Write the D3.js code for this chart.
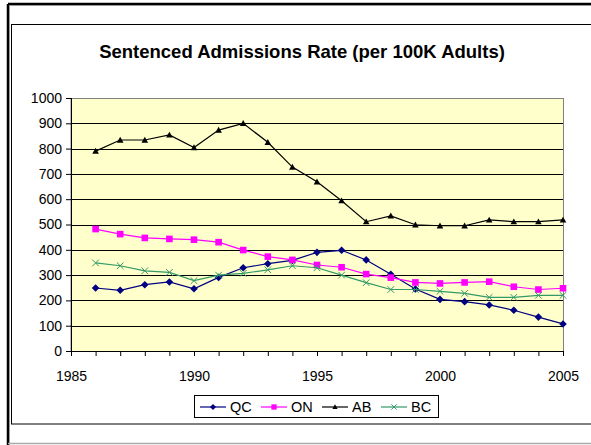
<!DOCTYPE html>
<html>
<head>
<meta charset="utf-8">
<script src="https://cdn.jsdelivr.net/npm/d3@7"></script>
<style>
  body { margin: 0; background: #fff; }
  svg { display: block; font-family: "Liberation Sans", Arial, sans-serif; }
  .tick text { font-size: 14px; fill: #000; }
</style>
</head>
<body>
<svg id="chart" width="591" height="445"></svg>
<script>
var years = [1986, 1987, 1988, 1989, 1990, 1991, 1992, 1993, 1994, 1995,
             1996, 1997, 1998, 1999, 2000, 2001, 2002, 2003, 2004, 2005];
var qc = [249, 240, 262, 273, 246, 291, 329, 345, 358, 390,
          398, 360, 303, 245, 204, 195, 182, 161, 134, 107];
var on = [482, 462, 447, 443, 440, 430, 399, 373, 360, 340,
          331, 304, 290, 271, 267, 271, 274, 254, 243, 248];
var ab = [790, 834, 834, 854, 804, 873, 900, 825, 727, 669,
          594, 511, 534, 499, 495, 495, 518, 511, 511, 518];
var bc = [348, 337, 317, 311, 278, 300, 307, 321, 337, 329,
          300, 270, 243, 243, 236, 228, 212, 212, 220, 220];
var yTicks = [0, 100, 200, 300, 400, 500, 600, 700, 800, 900, 1000];
var xLabels = [1985, 1990, 1995, 2000, 2005];

var series = [
  { name: "QC", values: qc, color: "#000080", marker: "diamond" },
  { name: "ON", values: on, color: "#ff00ff", marker: "square" },
  { name: "AB", values: ab, color: "#000000", marker: "triangle" },
  { name: "BC", values: bc, color: "#339966", marker: "cross" }
];

var svg = d3.select("#chart");

// outer frame
svg.append("line").attr("x1", 8).attr("y1", 4).attr("x2", 8).attr("y2", 445)
  .attr("stroke", "#000").attr("stroke-width", 2.5);
svg.append("line").attr("x1", 8).attr("y1", 4).attr("x2", 591).attr("y2", 4)
  .attr("stroke", "#000").attr("stroke-width", 2.5);
svg.append("line").attr("x1", 9.5).attr("y1", 5.5).attr("x2", 9.5).attr("y2", 445)
  .attr("stroke", "#999").attr("stroke-width", 1);
svg.append("line").attr("x1", 9.5).attr("y1", 5.5).attr("x2", 591).attr("y2", 5.5)
  .attr("stroke", "#999").attr("stroke-width", 1);
svg.append("line").attr("x1", 8).attr("y1", 443.5).attr("x2", 591).attr("y2", 443.5)
  .attr("stroke", "#aaa").attr("stroke-width", 1.5);

// inner chart area border
svg.append("rect").attr("x", 11.5).attr("y", 24.5).attr("width", 600).attr("height", 399.5)
  .attr("fill", "#fff").attr("stroke", "#000").attr("stroke-width", 1);

svg.append("text").attr("x", 302).attr("y", 58).attr("text-anchor", "middle")
  .attr("font-size", "18.5px").attr("font-weight", "bold")
  .text("Sentenced Admissions Rate (per 100K Adults)");

var plotLeft = 71, plotRight = 563, plotTop = 98, plotBottom = 351;
var x = d3.scaleLinear().domain([1985, 2005]).range([plotLeft, plotRight]);
var y = d3.scaleLinear().domain([0, 1000]).range([plotBottom, plotTop]);

svg.append("rect").attr("x", plotLeft).attr("y", plotTop + 0.5)
  .attr("width", plotRight - plotLeft + 0.5).attr("height", plotBottom - plotTop)
  .attr("fill", "#ffffcc").attr("stroke", "#808080").attr("stroke-width", 1);

// gridlines
svg.append("g").selectAll("line").data(yTicks.slice(1, -1)).enter().append("line")
  .attr("x1", plotLeft).attr("x2", plotRight)
  .attr("y1", function(d) { return Math.round(y(d)) + 0.5; })
  .attr("y2", function(d) { return Math.round(y(d)) + 0.5; })
  .attr("stroke", "#000").attr("stroke-width", 1);

var yAxis = d3.axisLeft(y).tickValues(yTicks).tickSize(5).tickPadding(4).tickFormat(d3.format("d"));
svg.append("g").attr("transform", "translate(" + plotLeft + ",0)").call(yAxis)
  .call(function(g) { g.select(".domain").remove(); })
  .call(function(g) { g.selectAll(".tick line").attr("stroke", "#000"); });
svg.append("line").attr("x1", plotLeft + 0.5).attr("x2", plotLeft + 0.5)
  .attr("y1", plotTop).attr("y2", plotBottom).attr("stroke", "#000");

var xAxis = d3.axisBottom(x).tickValues(d3.range(1985, 2006)).tickSize(5).tickPadding(15)
  .tickFormat(function(d) { return xLabels.indexOf(d) >= 0 ? d : ""; });
svg.append("g").attr("transform", "translate(0," + plotBottom + ")").call(xAxis)
  .call(function(g) { g.select(".domain").remove(); })
  .call(function(g) { g.selectAll(".tick line").attr("stroke", "#000"); });
svg.append("line").attr("x1", plotLeft).attr("x2", plotRight)
  .attr("y1", plotBottom + 0.5).attr("y2", plotBottom + 0.5).attr("stroke", "#000");

function drawMarker(g, type, cx, cy, color, s) {
  if (type === "diamond") {
    g.append("path").attr("d", "M" + cx + "," + (cy - s) + "L" + (cx + s) + "," + cy +
      "L" + cx + "," + (cy + s) + "L" + (cx - s) + "," + cy + "Z").attr("fill", color);
  } else if (type === "square") {
    g.append("rect").attr("x", cx - s).attr("y", cy - s).attr("width", 2 * s).attr("height", 2 * s)
      .attr("fill", color);
  } else if (type === "triangle") {
    g.append("path").attr("d", "M" + cx + "," + (cy - s) + "L" + (cx + s) + "," + (cy + s * 0.8) +
      "L" + (cx - s) + "," + (cy + s * 0.8) + "Z").attr("fill", color);
  } else {
    g.append("path").attr("d", "M" + (cx - s) + "," + (cy - s) + "L" + (cx + s) + "," + (cy + s) +
      "M" + (cx + s) + "," + (cy - s) + "L" + (cx - s) + "," + (cy + s))
      .attr("stroke", color).attr("stroke-width", 1).attr("fill", "none");
  }
}

var sizes = { diamond: 3.8, square: 3.3, triangle: 3.3, cross: 3.3 };
var line = d3.line().x(function(d, i) { return x(years[i]); }).y(function(d) { return y(d); });

series.forEach(function(s) {
  var g = svg.append("g");
  g.append("path").datum(s.values).attr("d", line)
    .attr("fill", "none").attr("stroke", s.color).attr("stroke-width", 1.2);
  s.values.forEach(function(v, i) {
    drawMarker(g, s.marker, x(years[i]), y(v), s.color, sizes[s.marker]);
  });
});

// legend
var lg = svg.append("g");
lg.append("rect").attr("x", 194.5).attr("y", 395.5).attr("width", 244).attr("height", 22)
  .attr("fill", "#fff").attr("stroke", "#000");
var legendX = [200, 261, 322, 381];
series.forEach(function(s, i) {
  var lx = legendX[i], ly = 407;
  lg.append("line").attr("x1", lx).attr("x2", lx + 26).attr("y1", ly).attr("y2", ly)
    .attr("stroke", s.color).attr("stroke-width", 1.2);
  drawMarker(lg, s.marker, lx + 13, ly, s.color, sizes[s.marker] * 0.8);
  lg.append("text").attr("x", lx + 30).attr("y", ly + 5).attr("font-size", "14.5px").text(s.name);
});
</script>
</body>
</html>
